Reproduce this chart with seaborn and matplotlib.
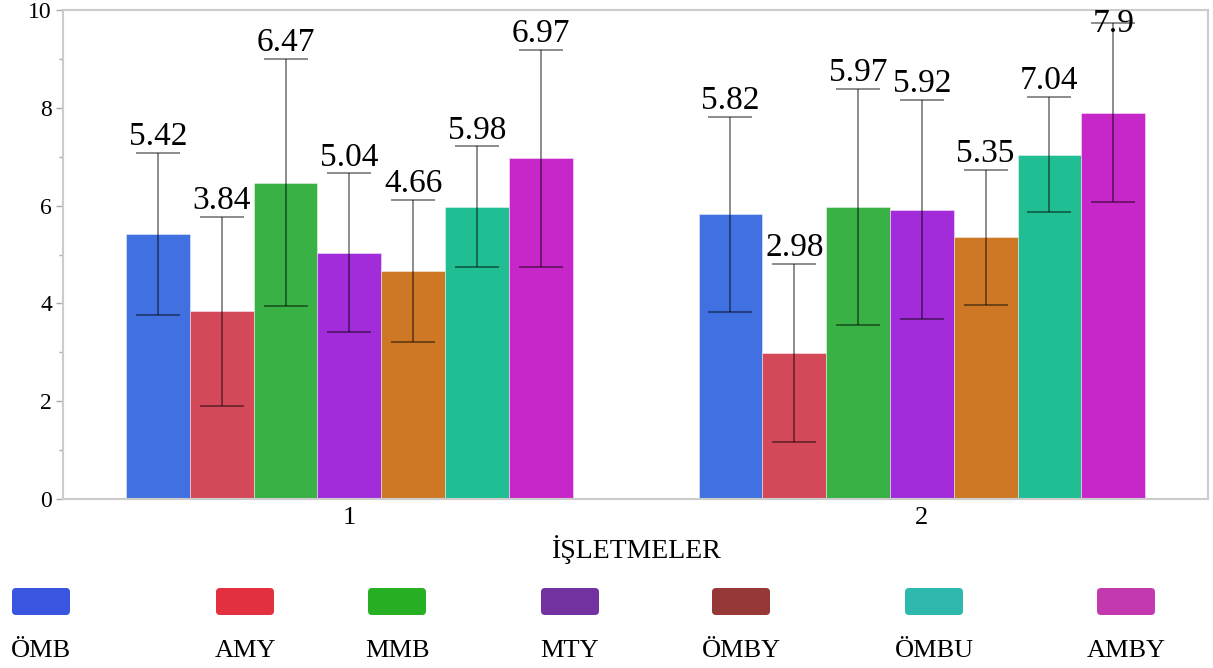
import pandas as pd
import numpy as np
import seaborn as sns
import matplotlib.pyplot as plt
from matplotlib.ticker import MultipleLocator
from matplotlib.patches import FancyBboxPatch

# data
isletmeler = ["1", "2"]
gruplar = ["ÖMB", "AMY", "MMB", "MTY", "ÖMBY", "ÖMBU", "AMBY"]
ortalama_1 = [5.42, 3.84, 6.47, 5.04, 4.66, 5.98, 6.97]
ortalama_2 = [5.82, 2.98, 5.97, 5.92, 5.35, 7.04, 7.9]
hata_1 = [1.65, 1.93, 2.53, 1.62, 1.45, 1.23, 2.22]
hata_2 = [1.99, 1.82, 2.42, 2.24, 1.38, 1.18, 1.83]

bar_colors = ["#4171E0", "#D4495A", "#3AB144", "#A22CDA", "#CE7826", "#22BE93", "#C726C9"]
legend_colors = ["#3A55E0", "#E23040", "#28B024", "#7232A0", "#963836", "#2FB8AD", "#C239B0"]

df = pd.DataFrame({
    "isletme": np.repeat(isletmeler, len(gruplar)),
    "grup": gruplar * len(isletmeler),
    "deger": ortalama_1 + ortalama_2,
    "hata": hata_1 + hata_2,
})

sns.set_style("white")
plt.rcParams["font.family"] = ["Liberation Serif", "DejaVu Serif"]
plt.rcParams["text.color"] = "black"
plt.rcParams["xtick.labelcolor"] = "black"
plt.rcParams["ytick.labelcolor"] = "black"
plt.rcParams["axes.labelcolor"] = "black"

fig = plt.figure(figsize=(12.13, 6.68), dpi=100)
ax = fig.add_axes([0.052, 0.253, 0.944, 0.732])

sns.barplot(data=df, x="isletme", y="deger", hue="grup", hue_order=gruplar,
            palette=bar_colors, width=0.78, errorbar=None, saturation=1,
            edgecolor=(1, 1, 1, 0.5), linewidth=0.6, legend=False, ax=ax)

# error bars and value labels on top of each bar
for container, grup in zip(ax.containers, gruplar):
    for patch, isletme in zip(container.patches, isletmeler):
        row = df[(df["grup"] == grup) & (df["isletme"] == isletme)].iloc[0]
        xc = patch.get_x() + patch.get_width() / 2
        ax.errorbar(xc, row["deger"], yerr=row["hata"], fmt="none",
                    ecolor=(0, 0, 0, 0.45), elinewidth=1.4, capsize=15.5, capthick=1.4)
        ust = min(row["deger"] + row["hata"] + 0.16, 9.55)
        ax.text(xc, ust, f"{row['deger']:g}", ha="center", va="baseline",
                fontsize=24, color="black")

ax.set_ylim(0, 10)
ax.set_xlim(-0.5, 1.5)
ax.yaxis.set_major_locator(MultipleLocator(2))
ax.yaxis.set_minor_locator(MultipleLocator(1))
ax.tick_params(axis="y", which="major", left=True, length=5, width=1, color="#AAAAAA",
               labelsize=17, pad=3, labelcolor="black")
ax.tick_params(axis="y", which="minor", left=True, length=3, width=1, color="#AAAAAA")
ax.tick_params(axis="x", length=0, labelsize=19, pad=6, labelcolor="black")
for spine in ax.spines.values():
    spine.set_color("#CCCCCC")
    spine.set_linewidth(1.5)
ax.set_ylabel("")
ax.set_xlabel("İŞLETMELER", fontsize=20, labelpad=4, color="black")

# custom legend below the chart, in pixel coordinates
leg_ax = fig.add_axes([0, 0, 1, 1], zorder=-1)
leg_ax.set_xlim(0, 1213)
leg_ax.set_ylim(668, 0)
leg_ax.axis("off")
leg_x = [41, 245, 397, 570, 741, 934, 1126]
for xc, color, name in zip(leg_x, legend_colors, gruplar):
    leg_ax.add_patch(FancyBboxPatch((xc - 26, 591), 52, 21,
                                    boxstyle="round,pad=3,rounding_size=4",
                                    facecolor=color, edgecolor="none"))
    leg_ax.text(xc, 657, name, ha="center", va="baseline", fontsize=19, color="black")

plt.savefig("out.png", dpi=100)
